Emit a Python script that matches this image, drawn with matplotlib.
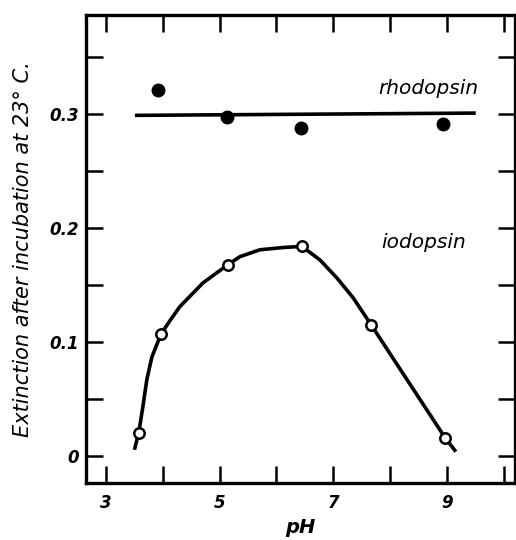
import numpy as np
import matplotlib
matplotlib.use("Agg")
import matplotlib.pyplot as plt

# Datos
rhodo_ph = [3.92, 5.13, 6.43, 8.93]
rhodo_ext = [0.321, 0.298, 0.288, 0.291]
rhodo_line_ph = [3.51, 9.51]
rhodo_line_ext = [0.299, 0.301]

iodo_ph = [3.58, 3.97, 5.15, 6.45, 7.67, 8.97]
iodo_ext = [0.020, 0.107, 0.168, 0.184, 0.115, 0.016]

# trazo de la curva dibujada a mano
curve_ph = [3.51, 3.58, 3.65, 3.72, 3.81, 3.97, 4.13, 4.30, 4.71, 5.15, 5.36,
            5.71, 6.12, 6.45, 6.77, 7.07, 7.35, 7.67, 8.30, 8.97, 9.14]
curve_ext = [0.007, 0.021, 0.043, 0.067, 0.087, 0.107, 0.119, 0.131, 0.152,
             0.168, 0.175, 0.181, 0.183, 0.184, 0.172, 0.156, 0.139, 0.115,
             0.067, 0.016, 0.005]

x_ticks = [3, 4, 5, 6, 7, 8, 9, 10]
x_labels = ["3", "", "5", "", "7", "", "9", ""]
y_ticks = [0, 0.05, 0.1, 0.15, 0.2, 0.25, 0.3, 0.35]
y_labels = ["0", "", "0.1", "", "0.2", "", "0.3", ""]

plt.rcParams["font.family"] = ["DejaVu Sans"]

fig = plt.figure(figsize=(5.16, 5.4), dpi=100)
ax = fig.add_axes([0.1667, 0.1056, 0.8313, 0.8664])

ax.plot(rhodo_line_ph, rhodo_line_ext, color="black", lw=2.6, solid_capstyle="butt")
ax.plot(rhodo_ph, rhodo_ext, "o", color="black", ms=9)

ax.plot(curve_ph, curve_ext, color="black", lw=2.6, solid_joinstyle="round")
ax.plot(iodo_ph, iodo_ext, "o", mfc="white", mec="black", mew=1.8, ms=7.5)

ax.text(8.67, 0.323, "rhodopsin", fontsize=14.5, style="italic", ha="center", va="center")
ax.text(8.6, 0.187, "iodopsin", fontsize=14.5, style="italic", ha="center", va="center")

ax.set_xlim(2.65, 10.2)
ax.set_ylim(-0.0237, 0.387)
ax.set_xticks(x_ticks)
ax.set_xticklabels(x_labels)
ax.set_yticks(y_ticks)
ax.set_yticklabels(y_labels)

for lbl in ax.get_xticklabels() + ax.get_yticklabels():
    lbl.set_fontstyle("italic")
    lbl.set_fontsize(12)
    lbl.set_fontweight("bold")

ax.tick_params(direction="in", length=12, width=1.8, top=True, right=True, pad=5)
ax.tick_params(axis="x", pad=8)

for s in ax.spines.values():
    s.set_linewidth(2.4)

ax.set_xlabel("pH", fontsize=14, style="italic", fontweight="bold", labelpad=4)
ax.set_ylabel("Extinction after incubation at 23° C.", fontsize=15, style="italic",
              labelpad=12)

plt.savefig("out.png", dpi=100)
